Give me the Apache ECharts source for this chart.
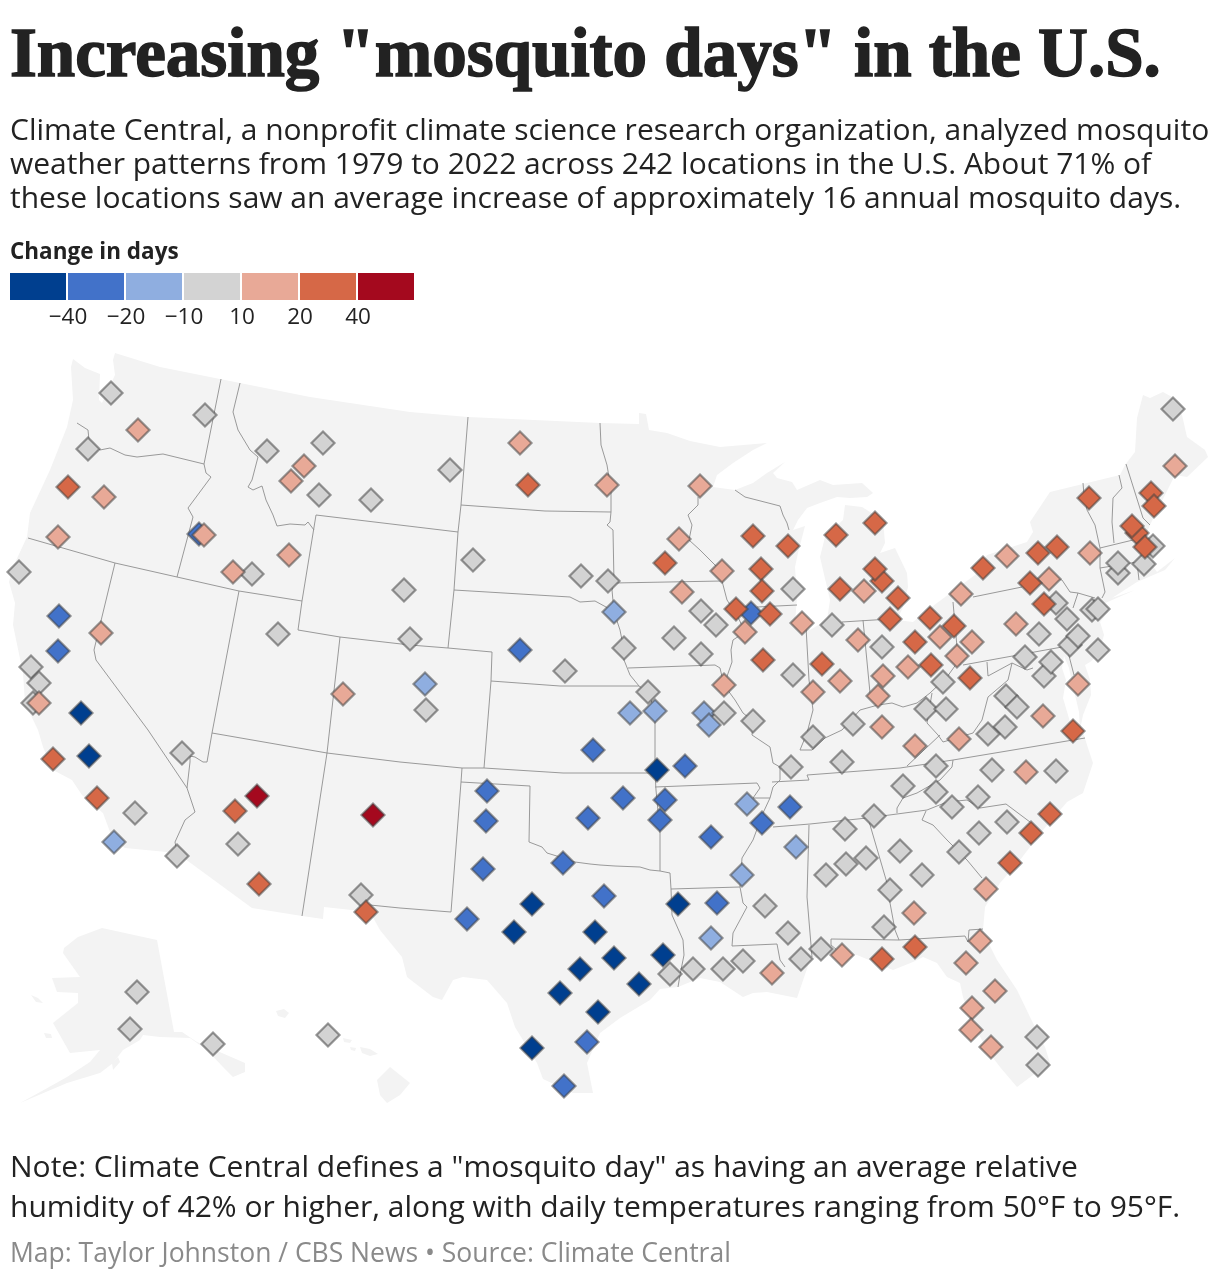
<!DOCTYPE html>
<html><head><meta charset="utf-8">
<style>html,body{margin:0;padding:0;background:#fff}#c{width:1220px;height:1280px}</style>
<script src="https://cdn.jsdelivr.net/npm/echarts@6/dist/echarts.min.js"></script>
</head><body><div id="c"></div>
<script>
const binColors=['#003f8f','#4272c9','#8faee0','#d3d3d3','#e8a997','#d66847','#a4091e'];
const legendTicks=['','−40','−20','−10','10','20','40',''];
// stations by bin (map units)
const below40=[[81,713],[89,756],[657,770],[532,904],[514,932],[595,932],[678,904],[614,958],[663,955],[580,969],[560,993],[639,984],[598,1012],[532,1048]];
const from40to20=[[59,616],[58,651],[199,534],[520,650],[751,613],[593,750],[685,766],[487,791],[486,821],[483,869],[467,919],[563,863],[604,896],[588,818],[623,798],[665,800],[660,820],[711,837],[762,823],[790,807],[717,903],[587,1042],[564,1086]];
const from20to10=[[614,612],[425,684],[630,713],[655,711],[704,713],[709,725],[747,804],[796,847],[742,875],[711,938],[114,842]];
const from10to10=[[111,393],[205,415],[88,449],[267,451],[323,443],[319,495],[371,500],[404,590],[278,634],[19,572],[31,667],[39,683],[410,639],[33,703],[252,574],[450,470],[473,560],[581,576],[608,581],[701,611],[716,625],[674,638],[624,648],[701,654],[565,671],[648,692],[793,589],[793,675],[724,713],[753,721],[426,710],[791,767],[813,737],[1173,409],[1118,573],[1118,563],[1144,564],[1153,546],[1056,603],[1067,619],[1092,610],[1098,609],[1070,645],[1078,636],[1098,650],[1039,634],[1025,657],[1044,676],[1051,662],[832,625],[882,647],[943,682],[926,709],[946,709],[1006,696],[1017,707],[1005,727],[988,734],[853,724],[842,762],[936,766],[992,770],[1056,771],[903,786],[936,792],[978,797],[952,807],[1007,822],[979,833],[874,816],[845,829],[900,851],[866,858],[846,864],[826,875],[959,852],[922,875],[890,890],[884,927],[821,949],[801,959],[1037,1037],[1038,1065],[670,974],[693,969],[723,969],[743,961],[765,906],[788,933],[182,753],[135,813],[177,856],[238,844],[361,895],[137,992],[130,1029],[213,1044],[328,1035]];
const from10to20=[[138,430],[304,466],[291,481],[104,497],[58,537],[204,535],[289,555],[233,572],[101,633],[39,703],[343,694],[520,443],[607,485],[700,486],[679,539],[722,571],[682,592],[745,632],[802,623],[724,685],[1007,556],[1090,553],[1175,466],[1049,579],[961,594],[864,591],[1016,624],[940,637],[972,642],[957,656],[858,640],[908,667],[840,681],[813,692],[883,676],[878,696],[1078,684],[1043,716],[882,727],[959,739],[915,746],[1026,772],[986,889],[914,913],[980,941],[842,955],[966,963],[995,991],[972,1008],[971,1030],[991,1047],[772,973]];
const from20to40=[[68,487],[528,485],[665,563],[753,536],[788,546],[761,569],[762,591],[736,609],[770,614],[763,660],[836,535],[875,523],[882,581],[875,569],[840,589],[898,598],[890,619],[930,618],[954,626],[915,642],[931,665],[822,664],[970,678],[983,568],[1038,553],[1057,547],[1030,583],[1044,604],[1089,498],[1151,493],[1154,506],[1137,533],[1132,526],[1145,547],[1073,731],[53,759],[97,798],[235,811],[259,884],[366,912],[1050,814],[1031,833],[1010,863],[915,947],[882,959]];
const above40=[[257,796],[373,815]];
const binValues=[below40,from40to20,from20to10,from10to10,from10to20,from20to40,above40];

// basemap outlines (map units)
const lower48=[[73,359],[85,368],[100,374],[99,400],[102,403],[115,375],[113,360],[115,353],[160,367],[220,379],[310,397],[410,412],[468,417],[600,423],[639,424],[639,413],[646,414],[649,430],[667,433],[690,441],[720,447],[767,443],[753,450],[733,463],[717,475],[713,487],[735,490],[753,483],[767,473],[785,462],[773,473],[777,478],[792,482],[797,490],[820,480],[833,485],[862,483],[873,493],[867,497],[850,498],[837,497],[820,503],[807,508],[798,520],[793,530],[805,526],[798,553],[795,567],[797,597],[795,623],[810,630],[827,620],[830,600],[820,557],[825,537],[843,520],[845,505],[862,507],[883,520],[885,543],[880,553],[895,548],[907,573],[908,587],[903,607],[897,620],[913,622],[937,603],[975,575],[987,555],[1027,542],[1033,532],[1030,522],[1050,492],[1120,475],[1125,465],[1135,452],[1137,418],[1143,395],[1150,398],[1163,392],[1172,397],[1182,415],[1187,437],[1205,450],[1208,457],[1187,477],[1175,475],[1160,505],[1150,525],[1147,532],[1155,545],[1150,562],[1157,572],[1175,558],[1165,570],[1137,582],[1112,598],[1135,590],[1103,604],[1108,612],[1100,622],[1104,635],[1098,655],[1090,662],[1085,665],[1090,680],[1091,695],[1083,715],[1080,730],[1084,735],[1087,745],[1093,763],[1083,793],[1067,802],[1043,830],[1020,860],[1000,883],[985,907],[983,930],[987,940],[997,960],[1017,990],[1030,1017],[1045,1047],[1050,1063],[1033,1075],[1017,1087],[1000,1067],[987,1050],[970,1017],[963,997],[960,983],[947,977],[937,963],[923,957],[913,962],[893,970],[857,955],[830,953],[810,960],[797,998],[767,992],[753,993],[743,997],[720,982],[700,978],[678,987],[660,989],[650,1000],[620,1018],[600,1033],[587,1063],[593,1093],[573,1093],[543,1079],[537,1063],[515,1027],[507,1003],[487,980],[463,977],[453,980],[442,1000],[433,997],[407,977],[402,957],[380,930],[370,912],[324,907],[323,919],[302,916],[252,908],[177,853],[125,848],[113,840],[103,813],[82,795],[72,780],[53,770],[43,747],[38,730],[25,703],[23,673],[13,625],[15,603],[9,582],[13,567],[27,537],[30,513],[50,470],[67,427],[73,400],[71,367]];
const alaska=[[102,928],[157,940],[174,1032],[182,1032],[197,1042],[222,1053],[245,1063],[245,1072],[233,1077],[223,1067],[207,1050],[190,1038],[160,1037],[143,1035],[140,1040],[123,1050],[113,1063],[100,1073],[67,1083],[20,1103],[42,1091],[67,1077],[90,1062],[100,1050],[70,1053],[53,1023],[78,1003],[78,993],[57,992],[52,978],[80,977],[63,953],[64,948],[78,937]];
const islands=[[[44,1033],[51,1034],[52,1038],[46,1038]],[[31,995],[38,998],[43,1003],[36,1002]],[[112,1063],[118,1057],[120,1062],[113,1070]],[[276,1011],[284,1009],[289,1013],[285,1018],[278,1016]],[[343,1038],[352,1040],[350,1043],[344,1042]],[[350,1047],[356,1048],[355,1051],[351,1050]],[[360,1047],[370,1049],[378,1054],[370,1056],[362,1053]],[[390,1067],[410,1083],[400,1095],[387,1103],[380,1095],[377,1080]]];
const chesapeake=[[1064,656],[1069,668],[1072,682],[1079,712],[1080,730],[1072,729],[1068,715],[1063,698],[1066,680],[1062,668]];
const borders=[
[[221,379],[204,464]],
[[77,423],[88,430],[89,440],[100,450],[110,448],[125,455],[137,457],[163,454],[204,464]],
[[204,464],[206,473],[211,477],[188,508],[193,517],[177,577]],
[[28,538],[115,563],[177,577],[239,591],[302,601]],
[[240,383],[233,412],[238,430],[250,450],[258,457],[252,480],[248,487],[253,490],[262,486],[266,500],[273,515],[277,526],[290,524],[305,525],[308,522],[314,530]],
[[316,515],[458,532]],
[[316,515],[302,601],[298,630],[340,637],[410,645],[448,648],[492,652]],
[[115,563],[100,625],[94,650],[96,660],[148,730],[187,788],[195,812],[185,820],[175,842],[177,853]],
[[239,591],[212,733],[207,762],[203,762],[195,757],[190,756],[190,762],[187,788]],
[[340,637],[327,753],[302,916]],
[[212,733],[327,753],[400,762],[462,768],[484,768],[563,773],[647,773],[655,773]],
[[462,768],[461,782],[451,912],[400,908],[370,905]],
[[461,782],[530,786],[529,842],[542,847],[547,853],[560,857],[575,862],[590,864],[600,865],[615,866],[640,867],[650,870],[660,871],[670,873],[671,889]],
[[660,871],[660,833],[656,790],[655,773],[655,711]],
[[484,768],[491,681],[492,652]],
[[448,648],[454,590],[458,532],[461,505],[468,417]],
[[461,505],[545,511],[611,512]],
[[454,590],[570,597],[580,602],[595,601],[606,607],[614,612]],
[[600,423],[601,445],[607,465],[611,490],[611,512],[610,522],[607,525],[613,530],[614,583],[612,590],[614,612]],
[[614,583],[722,581]],
[[614,612],[620,630],[622,640],[624,660],[630,675],[639,686],[648,692],[655,711]],
[[491,681],[560,686],[639,686]],
[[628,668],[715,665],[720,668],[724,685]],
[[698,497],[698,505],[688,515],[692,525],[689,540],[700,550],[715,565],[722,572],[722,581],[727,600],[737,615],[745,632],[733,640],[731,650],[732,662],[724,685],[735,700],[743,713],[753,721],[752,735],[770,747],[773,763],[780,767],[780,780],[773,787],[770,798],[763,813],[753,840],[742,858],[740,887],[743,903],[747,907],[733,933],[732,946],[777,944],[780,960],[785,967]],
[[735,490],[745,497],[780,506],[783,515],[787,523],[789,530]],
[[655,787],[757,783],[760,788],[753,798],[770,798]],
[[671,889],[740,887]],
[[671,889],[672,915],[683,940],[684,955],[680,975],[678,987]],
[[773,827],[810,824],[867,818],[927,810],[947,802],[967,800],[980,808],[1006,804],[1030,822]],
[[772,782],[809,780],[807,775],[900,768],[953,760],[1085,738]],
[[953,760],[952,767],[940,780],[917,793],[903,798],[897,808],[897,813]],
[[926,811],[922,820],[933,825],[947,840],[967,860],[982,878]],
[[809,825],[807,897],[812,957]],
[[868,818],[887,883],[890,903],[895,930],[899,940],[965,936],[968,942],[969,930],[983,929]],
[[899,940],[831,939],[831,945],[837,950]],
[[757,607],[797,605]],
[[806,627],[809,680],[813,710],[807,733],[800,750]],
[[800,750],[812,750],[825,738],[842,730],[860,710],[878,705],[892,703],[903,707],[917,703],[930,693],[947,677],[957,663],[960,665]],
[[863,620],[870,693]],
[[842,622],[890,619]],
[[953,602],[957,647],[960,665]],
[[973,597],[1022,587]],
[[963,665],[1062,647]],
[[987,662],[988,676],[1012,663],[1027,670],[1033,668]],
[[1012,663],[1008,680],[988,697],[982,720],[973,733],[943,742],[938,735],[927,723],[932,693]],
[[907,766],[940,735]],
[[1083,483],[1084,495],[1087,510],[1095,525],[1100,548],[1100,568],[1105,592],[1102,598]],
[[1119,475],[1122,488],[1113,498],[1112,522],[1114,543]],
[[1100,548],[1133,540],[1147,532]],
[[1126,464],[1143,518],[1150,525]],
[[1100,568],[1137,562]],
[[1137,562],[1139,580]],
[[1049,578],[1062,580],[1070,592],[1078,593],[1095,598]],
[[1078,593],[1073,608]],
[[1068,652],[1074,675]],
];
const landShapes=[lower48,alaska].concat(islands);

const shape=(list,type,style)=>({
  type:'custom',coordinateSystem:'cartesian2d',xAxisIndex:0,yAxisIndex:0,silent:true,clip:false,
  data:list.map((_,i)=>[i]),
  renderItem(p,api){
    const pts=list[api.value(0)].map(c=>api.coord(c));
    return {type,shape:{points:pts},style};
  },z:1});

const text=(t,left,top,size,color,extra)=>({text:t,left,top,padding:0,itemGap:0,
  textStyle:Object.assign({fontFamily:'Open Sans',fontSize:size,fontWeight:'normal',color,lineHeight:size*1.2},extra||{})});

const chart=echarts.init(document.getElementById('c'),null,{renderer:'canvas'});
chart.setOption({
  animation:false,backgroundColor:'#fff',
  title:[
    text('Increasing "mosquito days" in the U.S.',10,21,69,'#222',{fontFamily:'Liberation Serif',fontWeight:'bold',lineHeight:74,textBorderColor:'#222',textBorderWidth:1.5}),
    text('Climate Central, a nonprofit climate science research organization, analyzed mosquito\nweather patterns from 1979 to 2022 across 242 locations in the U.S. About 71% of\nthese locations saw an average increase of approximately 16 annual mosquito days.',10,114,30,'#222',{lineHeight:34}),
    text('Change in days',10,240,22.5,'#222',{fontWeight:'bold',lineHeight:26}),
    text('Note: Climate Central defines a "mosquito day" as having an average relative\nhumidity of 42% or higher, along with daily temperatures ranging from 50°F to 95°F.',10,1148,30,'#222',{lineHeight:40}),
    text('Map: Taylor Johnston / CBS News • Source: Climate Central',10,1239,26.5,'#8a8a8a',{lineHeight:30}),
  ],
  grid:[
    {left:0,top:0,width:1220,height:1280,containLabel:false},
    {left:10,top:273,width:406,height:27,containLabel:false},
  ],
  xAxis:[
    {type:'value',min:0,max:1220,show:false,gridIndex:0},
    {type:'value',min:0,max:7,interval:1,gridIndex:1,axisLine:{show:false},axisTick:{show:false},splitLine:{show:false},
     axisLabel:{show:true,margin:6,fontFamily:'Open Sans',fontSize:22.5,color:'#222',hideOverlap:false,showMinLabel:true,showMaxLabel:true,
       formatter:v=>legendTicks[v]||''}},
  ],
  yAxis:[
    {type:'value',min:0,max:1280,inverse:true,show:false,gridIndex:0},
    {type:'value',min:0,max:1,show:false,gridIndex:1},
  ],
  series:[
    shape(landShapes,'polygon',{fill:'#f3f3f3'}),
    shape([chesapeake],'polygon',{fill:'#fff'}),
    shape(borders,'polyline',{fill:'none',stroke:'#8e8e8e',lineWidth:0.9}),
    {type:'custom',coordinateSystem:'cartesian2d',xAxisIndex:1,yAxisIndex:1,silent:true,
     data:binColors.map((c,i)=>[i]),
     renderItem(p,api){
       const i=api.value(0),a=api.coord([i,1]),b=api.coord([i+1,0]);
       return {type:'rect',shape:{x:a[0],y:a[1],width:b[0]-a[0]-2,height:b[1]-a[1]},style:{fill:binColors[i]}};
     }},
    ...binValues.map((vals,i)=>({
      type:'scatter',xAxisIndex:0,yAxisIndex:0,symbol:'diamond',symbolSize:23,silent:true,z:3+i,
      data:vals,
      itemStyle:{color:binColors[i],opacity:1,borderColor:'rgba(65,65,65,0.55)',borderWidth:2.2},
    })),
  ],
});
</script></body></html>
